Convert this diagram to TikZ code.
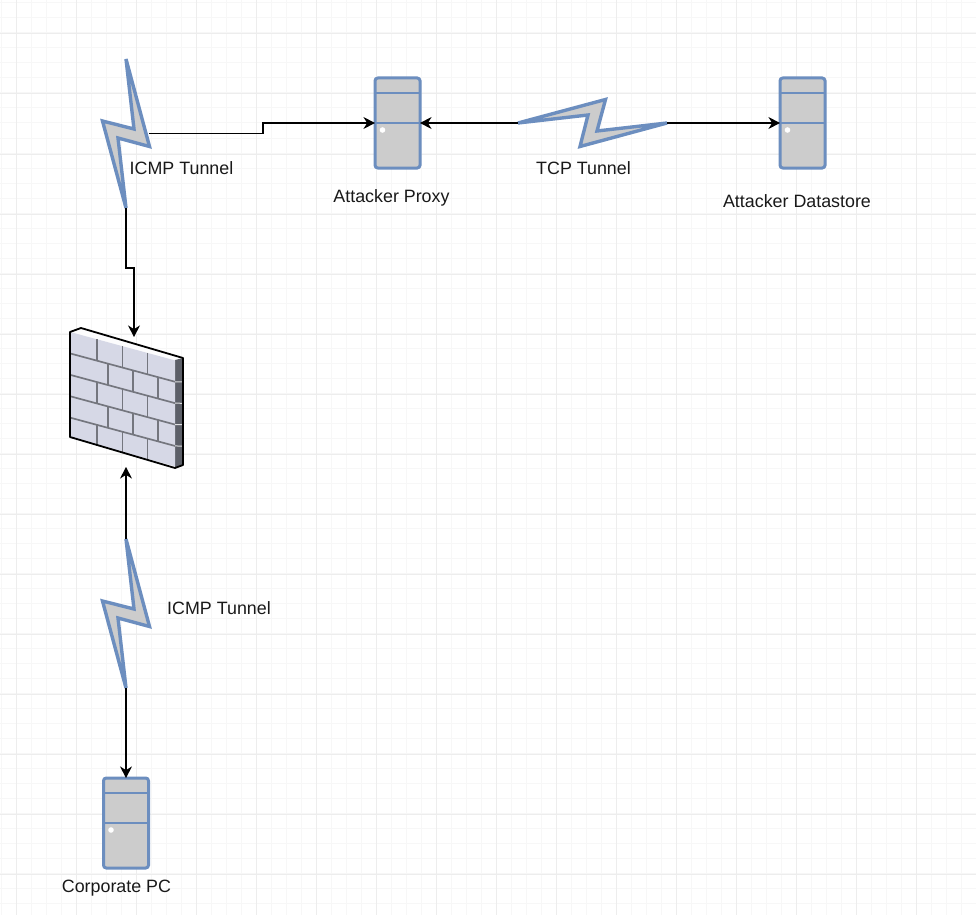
\documentclass[tikz,border=0pt]{standalone}
\usepackage{fontspec}
\setmainfont{Liberation Sans}
\usepackage{xcolor}
\usetikzlibrary{arrows.meta,calc}
\definecolor{edgeblue}{HTML}{6C8EBF}
\definecolor{boxgray}{HTML}{CCCCCC}
\definecolor{brick}{HTML}{D6D8E6}
\definecolor{mortar}{HTML}{74767E}
\definecolor{wallside}{HTML}{5C5F68}
\tikzset{
  gridminor/.style = {line width=0.25mm, color=black!3},
  gridmajor/.style = {line width=0.25mm, color=black!7},
  server/.style = {draw=edgeblue, fill=boxgray, rectangle, rounded corners=0.7mm,
                   line width=0.75mm, inner sep=0pt, outer sep=0pt,
                   minimum width=11.25mm, minimum height=22.5mm},
  divider/.style = {draw=edgeblue, line width=0.7mm},
  lbl/.style  = {font=\fontsize{12.7}{14}\selectfont, text=black!90, inner sep=0pt},
  wire/.style = {-{Stealth[length=2.9mm,width=3mm]}, line width=0.4mm, black},
  bolt/.pic = {
    \draw[draw=edgeblue, fill=boxgray, line width=0.85mm, line join=miter, miter limit=3]
      (0,-74.5) -- (23.5,13) -- (-8,4.5) -- (0,74.5) -- (-23.5,-12.5) -- (8,-4.5) -- cycle;
    \coordinate (-top) at (0,-74.5);
    \coordinate (-bot) at (0,74.5);
    \coordinate (-east) at (23,0);
  }
}

\begin{document}
\begin{tikzpicture}[x=0.25mm, y=-0.25mm]
\useasboundingbox (0,0) rectangle (976,915);

% ---------- page grid ----------
\foreach \x in {1,16,...,976} { \draw[gridminor] (\x,0) -- (\x,915); }
\foreach \y in {3,18,...,915} { \draw[gridminor] (0,\y) -- (976,\y); }
\foreach \x in {16,76,...,976} { \draw[gridmajor] (\x,0) -- (\x,915); }
\foreach \y in {34,94,...,915} { \draw[gridmajor] (0,\y) -- (976,\y); }

% ---------- servers ----------
\node[server] (prx) at (397.5,123) {};
\node[server] (dst) at (802.5,123) {};
\node[server] (pc)  at (126,823) {};
\foreach \s in {prx,dst,pc} {
  \draw[divider] ($(\s.north west)+(0,15)$) -- ($(\s.north east)+(0,15)$);
  \draw[divider] (\s.west) -- (\s.east);
  \fill[white] ($(\s.west)+(7.5,7)$) circle (2.8);
}

% ---------- tunnels ----------
\pic (ba) at (126,133.5) {bolt};
\pic (bb) at (126,613.5) {bolt};
\pic[rotate=90] (bc) at (592.5,123) {bolt};

% ---------- firewall ----------
\node[minimum width=28mm, minimum height=32.5mm, inner sep=0pt] (fw) at (126.5,402) {};
\coordinate (fwin) at (134,337);
\coordinate (fwout) at (126,467);
\fill[white!92!brick] (70,332) -- (81,328) -- (183,358) -- (175,360) -- cycle;
\fill[wallside] (175,360) -- (183,358) -- (183,465) -- (175,468) -- cycle;
\begin{scope}[shift={(70,332)}, yslant=-0.27]
  \fill[brick] (0,0) rectangle (105,106);
  % courses of the wall
  \foreach \r in {1,...,4} {
    \draw[mortar, line width=0.42mm] (0,\r*21.4) -- (105,\r*21.4);
    \draw[white!80!wallside, line width=0.25mm] (105,\r*21.4) -- (113,\r*21.4-2);
  }
  % joints, shifted on every second course
  \foreach \r in {0,2,4} {
    \foreach \x in {27,52.5,77.5} {
      \draw[mortar, line width=0.42mm] (\x,\r*21.4) -- (\x,\r*21.4+21.4);
    }
  }
  \foreach \r in {1,3} {
    \foreach \x in {38,63,88} {
      \draw[mortar, line width=0.42mm] (\x,\r*21.4) -- (\x,\r*21.4+21.4);
    }
  }
\end{scope}
\draw[black, line width=0.45mm, line join=round]
  (70,332) -- (81,328) -- (183,358) -- (183,465) -- (175,468) -- (70,437) -- cycle;

% ---------- links ----------
\draw[wire] (ba-east) -- ++(114,0) |- (prx.west);
\draw[wire] (ba-bot) -- ++(0,60) -| (fwin);
\draw[wire] (bb-top) -- (fwout);
\draw[wire] (bb-bot) -- (pc.north);
\draw[wire] (bc-top) -- (prx.east);
\draw[wire] (bc-bot) -- (dst.west);

% ---------- labels ----------
\node[lbl] (la) at (181.5,168) {ICMP Tunnel};
\node[lbl] (lb) at (219,608) {ICMP Tunnel};
\node[lbl] (lc) at (583.5,168) {TCP Tunnel};
\node[lbl] (lp) at (391.5,198) {Attacker Proxy};
\node[lbl] (ld) at (797,201.5) {Attacker Datastore};
\node[lbl] (lq) at (116.5,888.5) {Corporate PC};

\end{tikzpicture}
\end{document}
